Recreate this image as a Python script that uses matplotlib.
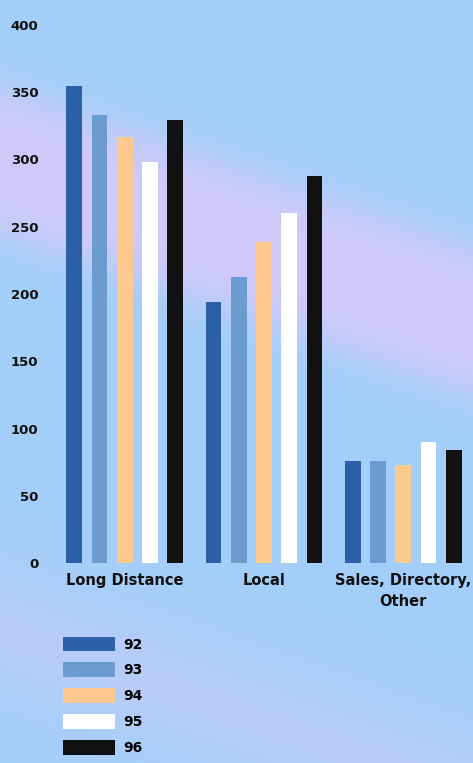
import matplotlib.pyplot as plt
import numpy as np
from matplotlib.patches import Patch

# data
categories = ["Long Distance", "Local", "Sales, Directory,\nOther"]
years = ["92", "93", "94", "95", "96"]
values = {
    "92": [355, 194, 76],
    "93": [333, 213, 76],
    "94": [317, 239, 73],
    "95": [298, 260, 90],
    "96": [329, 288, 84],
}
colors = ["#2b5fa6", "#6b9bcf", "#fdc98f", "#ffffff", "#111111"]
yticks = [0, 50, 100, 150, 200, 250, 300, 350, 400]

plt.rcParams['font.family'] = ['DejaVu Sans']

fig = plt.figure(figsize=(4.73, 7.63), dpi=100)

# background: light blue with a soft lavender diagonal band
bg = fig.add_axes([0, 0, 1, 1], zorder=-10)
h, w = 763, 473
yy, xx = np.mgrid[0:h, 0:w]
d = (yy - 0.34 * xx - 160) / 78.0
band = np.exp(-d ** 4)
d2 = (yy - 0.35 * xx - 630) / 70.0
band = np.maximum(band, 0.45 * np.exp(-d2 ** 2))
blue = np.array([0.64, 0.81, 0.98])
lav = np.array([0.82, 0.79, 0.98])
img = blue[None, None, :] * (1 - band[..., None]) + lav[None, None, :] * band[..., None]
bg.imshow(img, aspect='auto', extent=[0, 1, 0, 1])
bg.axis('off')

ax = fig.add_axes([55 / w, 1 - 563 / h, (w - 55) / w, (563 - 25) / h])
ax.patch.set_alpha(0)

x = np.arange(len(categories)) * 1.0
width = 0.113
step = 0.181
for i, yr in enumerate(years):
    ax.bar(x + (i - 2) * step, values[yr], width, color=colors[i], label=yr)

ax.set_ylim(0, 400)
ax.set_xlim(-0.5, 2.5)
ax.set_yticks(yticks)
ax.set_yticklabels([str(t) for t in yticks], fontsize=9.5, fontweight='bold', color='#111111')
ax.set_xticks(x)
ax.set_xticklabels(categories, fontsize=10.5, fontweight='bold', color='#111111',
                   linespacing=1.5)
ax.tick_params(length=0, pad=12)
ax.tick_params(axis='x', pad=7)
for s in ax.spines.values():
    s.set_visible(False)

handles = [Patch(facecolor=c) for c in colors]
fig.legend(handles, years, loc='upper left', bbox_to_anchor=(50 / w, 1 - 624 / h),
           frameon=False, handlelength=3.8, handleheight=1.25,
           labelspacing=0.78, handletextpad=0.6, prop={'weight': 'bold', 'size': 10})

fig.savefig('out.png', dpi=100)
